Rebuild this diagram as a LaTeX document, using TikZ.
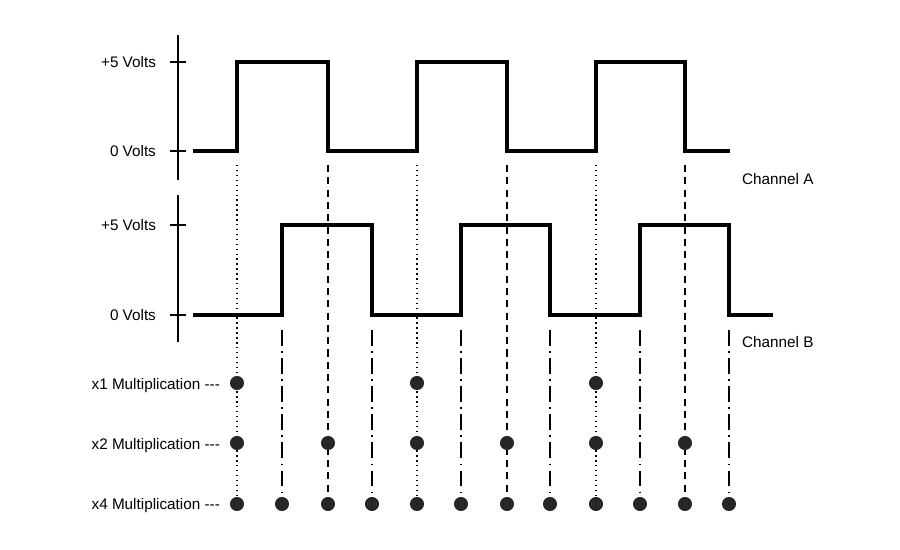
\documentclass[tikz,border=0pt]{standalone}
\usepackage{fontspec}
\setmainfont{Liberation Sans}
\usetikzlibrary{positioning}
\begin{document}
\begin{tikzpicture}[x=0.02cm,y=-0.02cm,
    wave/.style={line width=2.3pt,line join=miter},
    axis/.style={line width=0.8pt},
    rise/.style={line width=0.8pt,dotted},
    fall/.style={line width=0.8pt,dash pattern=on 4pt off 3pt},
    bedge/.style={line width=0.8pt,dash pattern=on 9pt off 3pt on 1pt off 3pt},
    dot/.style={circle,fill=black!85,inner sep=0pt,minimum size=8pt},
    lbl/.style={font=\fontsize{8.7}{10}\selectfont,anchor=east,inner sep=1pt},
    chan/.style={font=\fontsize{8.7}{10}\selectfont,anchor=west,inner sep=1pt}
]
\useasboundingbox (0,0) rectangle (900,550);

% Channel A axis
\draw[axis] (178,35) -- (178,180);
\draw[axis] (170,62) -- (186,62);
\draw[axis] (170,151) -- (186,151);
\node[lbl] (a5) at (158,62) {+5 Volts};
\node[lbl] (a0) at (158,151) {0 Volts};

% Channel B axis
\draw[axis] (178,195) -- (178,342);
\draw[axis] (170,225) -- (186,225);
\draw[axis] (170,315) -- (186,315);
\node[lbl] (b5) at (158,225) {+5 Volts};
\node[lbl] (b0) at (158,315) {0 Volts};

% Waveforms
\draw[wave] (193,151) -- (237,151) -- (237,62) -- (328,62) -- (328,151) -- (417,151) -- (417,62)
  -- (507,62) -- (507,151) -- (596,151) -- (596,62) -- (685,62) -- (685,151) -- (730,151);
\draw[wave] (193,315) -- (282,315) -- (282,225) -- (372,225) -- (372,315) -- (461,315) -- (461,225)
  -- (550,225) -- (550,315) -- (640,315) -- (640,225) -- (729,225) -- (729,315) -- (773,315);
\node[chan] (cha) at (740,179) {Channel A};
\node[chan] (chb) at (740,342) {Channel B};

% Edge lines
\foreach \x in {237,417,596} \draw[rise] (\x,165) -- (\x,504);
\foreach \x in {328,507,685} \draw[fall] (\x,165) -- (\x,504);
\foreach \x in {282,372,461,550,640,729} \draw[bedge] (\x,330) -- (\x,504);

% Multiplication rows
\node[lbl] (m1) at (222,386) {x1 Multiplication {-}{-}{-}};
\node[lbl] (m2) at (222,446) {x2 Multiplication {-}{-}{-}};
\node[lbl] (m4) at (222,506) {x4 Multiplication {-}{-}{-}};
\foreach \x in {237,417,596} \node[dot] at (\x,383) {};
\foreach \x in {237,328,417,507,596,685} \node[dot] at (\x,443) {};
\foreach \x in {237,282,328,372,417,461,507,550,596,640,685,729} \node[dot] at (\x,504) {};
\end{tikzpicture}
\end{document}
